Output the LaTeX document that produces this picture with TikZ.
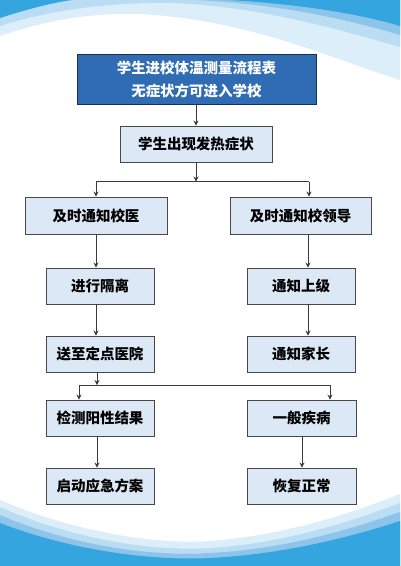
\documentclass[tikz,border=0pt]{standalone}
\usepackage{fontspec}
\setmainfont{Noto Sans CJK SC}
\usetikzlibrary{arrows.meta,calc}
\definecolor{wblue}{HTML}{35A5E0}
\definecolor{wmed}{HTML}{8DC4E9}
\definecolor{wlight}{HTML}{BBDDF3}
\definecolor{wlightest}{HTML}{DCEEF9}
\definecolor{boxfill}{HTML}{DCE8F5}
\definecolor{boxline}{HTML}{484848}
\definecolor{titlefill}{HTML}{2F6CB3}
\definecolor{titleline}{HTML}{1B2F4A}
\definecolor{arrowc}{HTML}{3A3A3A}
\begin{document}
\begin{tikzpicture}[x=1pt,y=-1pt,
  box/.style={draw=boxline, fill=boxfill, line width=0.9pt, minimum width=108pt,
    minimum height=36pt, inner sep=0pt, font=\fontsize{14.5}{17}\selectfont\bfseries},
  titlebox/.style={draw=titleline, fill=titlefill, line width=1pt, minimum width=239pt,
    minimum height=50pt, inner sep=0pt, align=center, text=white,
    font=\fontsize{14.5}{23}\selectfont\bfseries},
  link/.style={draw=arrowc, line width=0.9pt},
  arr/.style={link, -{Stealth[length=5pt,width=5pt]}}]
\useasboundingbox (0,0) rectangle (400,566);
\fill[white] (0,0) rectangle (400,566);
% top waves
\fill[wlightest] (0,0) -- (0,36) .. controls (40,22) and (90,12) .. (140,14)
  .. controls (250,20) and (330,58) .. (400,80) -- (400,0) -- cycle;
\fill[wlight] (0,0) -- (0,26) .. controls (50,10) and (110,2) .. (170,3)
  .. controls (260,6) and (340,30) .. (400,47) -- (400,0) -- cycle;
\fill[wmed] (195,0) .. controls (280,4) and (350,20) .. (400,35) -- (400,0) -- cycle;
\fill[wblue] (0,0) -- (0,18) .. controls (25,10) and (50,3) .. (72,0) -- cycle;
\fill[wblue] (228,0) .. controls (300,4) and (360,14) .. (400,26) -- (400,0) -- cycle;
% bottom waves
\fill[wlightest] (0,566) -- (0,500) .. controls (70,530) and (150,545) .. (210,541)
  .. controls (290,535) and (360,510) .. (400,494) -- (400,566) -- cycle;
\fill[wlight] (0,566) -- (0,507) .. controls (70,538) and (150,552) .. (210,548)
  .. controls (290,543) and (360,518) .. (400,503) -- (400,566) -- cycle;
\fill[wmed] (0,566) -- (0,515) .. controls (70,545) and (150,557) .. (210,553)
  .. controls (290,549) and (360,526) .. (400,512) -- (400,566) -- cycle;
\fill[wblue] (0,566) -- (0,523) .. controls (70,550) and (150,561) .. (210,558)
  .. controls (290,554) and (360,534) .. (400,521) -- (400,566) -- cycle;
% nodes
\node[titlebox] (t) at (196.5,79) {学生进校体温测量流程表\\无症状方可进入学校};
\node[box, minimum width=152pt] (s) at (196,144) {学生出现发热症状};
\node[box, minimum width=142pt, minimum height=37pt] (dl) at (96,215.5) {及时通知校医};
\node[box, minimum width=141pt, minimum height=37pt] (dr) at (300.5,215.5) {及时通知校领导};
\node[box] (il) at (100,286) {进行隔离};
\node[box] (ir) at (301,286) {通知上级};
\node[box] (hl) at (100,354) {送至定点医院};
\node[box] (hr) at (301,354) {通知家长};
\node[box] (pl) at (100,418) {检测阳性结果};
\node[box, minimum width=109pt] (pr) at (301.5,418) {一般疾病};
\node[box] (el) at (100,486) {启动应急方案};
\node[box, minimum width=109pt] (er) at (301.5,486) {恢复正常};
% helper coordinates
\coordinate (jA) at (196,181.5);
\coordinate (cL) at (96,181.5);
\coordinate (cR) at (309,181.5);
\coordinate (colL) at (96,0);
\coordinate (colR) at (308,0);
\coordinate (jB) at (97,385);
\coordinate (bL) at (79,385);
\coordinate (bR) at (330,385);
\coordinate (col2L) at (97,0);
\coordinate (col2R) at (302,0);
% connectors
\draw[arr] (t.south -| s.north) -- (s.north);
\draw[arr] (s.south) -- (s.south |- jA);
\draw[link] (cL) -- (cR);
\draw[arr] (cL) -- (cL |- dl.north);
\draw[arr] (cR) -- (cR |- dr.north);
\draw[arr] (dl.south -| colL) -- (il.north -| colL);
\draw[arr] (il.south -| colL) -- (hl.north -| colL);
\draw[arr] (dr.south -| colR) -- (ir.north -| colR);
\draw[arr] (ir.south -| colR) -- (hr.north -| colR);
\draw[arr] (hl.south -| jB) -- (jB);
\draw[link] (bL) -- (bR);
\draw[arr] (bL) -- (bL |- pl.north);
\draw[arr] (bR) -- (bR |- pr.north);
\draw[arr] (pl.south -| col2L) -- (el.north -| col2L);
\draw[arr] (pr.south -| col2R) -- (er.north -| col2R);
\end{tikzpicture}
\end{document}
